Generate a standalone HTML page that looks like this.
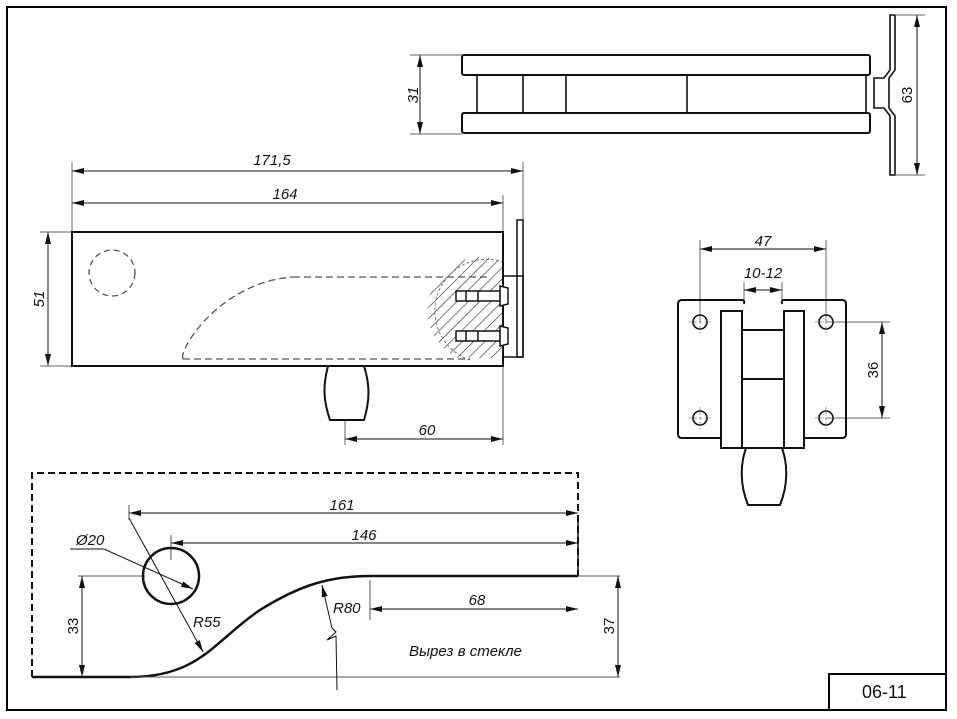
<!DOCTYPE html>
<html><head><meta charset="utf-8"><style>
html,body{margin:0;padding:0;background:#fff;}
svg{display:block;}
text{font-family:"Liberation Sans",sans-serif;font-style:italic;font-size:15px;fill:#111;}
</style></head><body>
<svg width="957" height="719" viewBox="0 0 957 719" xmlns="http://www.w3.org/2000/svg">
<defs>
<marker id="a" viewBox="0 0 12 6" refX="12" refY="3" markerWidth="12" markerHeight="6" orient="auto-start-reverse" markerUnits="userSpaceOnUse"><path d="M0,0 L12,3 L0,6 z" fill="#111"/></marker>
<pattern id="h" patternUnits="userSpaceOnUse" width="8" height="8" patternTransform="rotate(45)"><line x1="0" y1="0" x2="0" y2="8" stroke="#222" stroke-width="1.2"/></pattern>
</defs>
<!-- frame -->
<rect x="7" y="7" width="939" height="703" fill="none" stroke="#000" stroke-width="2"/>
<rect x="829" y="674" width="117" height="36" fill="none" stroke="#000" stroke-width="2"/>
<text x="862" y="698" style="font-style:normal;font-size:18px">06-11</text>

<!-- TOP VIEW -->
<g stroke="#111" fill="none">
<rect x="462" y="55" width="408" height="20" rx="2" stroke-width="2"/>
<rect x="462" y="113" width="408" height="20" rx="2" stroke-width="2"/>
<path d="M477 75V113M523 75V113M566 75V113M687 75V113M866 75V113" stroke-width="1.6"/>
<path d="M477 75H866M477 113H866" stroke-width="1.6"/>
<path d="M890 15V70L884 78H874V108H884L890 116V175H895V116L889 108V78L895 70V15Z" stroke-width="1.6"/>
<path d="M420 55V134" stroke-width="1" marker-start="url(#a)" marker-end="url(#a)"/>
<path d="M410 55H462M410 134H462" stroke="#666" stroke-width="1"/>
<path d="M917 15V175" stroke-width="1" marker-start="url(#a)" marker-end="url(#a)"/>
<path d="M895 15H925M895 175H925" stroke="#666" stroke-width="1"/>
</g>
<text transform="translate(418,95) rotate(-90)" text-anchor="middle">31</text>
<text transform="translate(912,95) rotate(-90)" text-anchor="middle" style="font-style:normal">63</text>

<!-- SIDE VIEW -->
<g stroke="#111" fill="none">
<path d="M72 162V232M523 162V220M503 195V232M503 366V445M345 420V445" stroke="#666" stroke-width="1"/>
<path d="M72 171H523" stroke-width="1" marker-start="url(#a)" marker-end="url(#a)"/>
<path d="M72 203H503" stroke-width="1" marker-start="url(#a)" marker-end="url(#a)"/>
<path d="M48 232V366" stroke-width="1" marker-start="url(#a)" marker-end="url(#a)"/>
<path d="M40 232H72M40 366H72" stroke="#666" stroke-width="1"/>
<path d="M345 439H503" stroke-width="1" marker-start="url(#a)" marker-end="url(#a)"/>
<path d="M458 358 A48 48 0 0 1 503 262 V358 Z" fill="url(#h)" stroke="none"/>
<path d="M470 360 A48 48 0 0 1 503 262" stroke="#777" stroke-dasharray="3,2" stroke-width="1"/>
<rect x="72" y="232" width="431" height="134" stroke-width="2"/>
<circle cx="112" cy="273" r="23" stroke="#555" stroke-dasharray="6,4" stroke-width="1.3"/>
<path d="M293 277H490M183 359H470M183 359 C178 350 220 282 293 277" stroke="#555" stroke-dasharray="7,4" stroke-width="1.3"/>
<rect x="503" y="276" width="20" height="81" stroke-width="1.5"/>
<rect x="517" y="220" width="6" height="137" stroke-width="1.5"/>
<g stroke-width="1.5" fill="#fff">
<rect x="456" y="291" width="44" height="10"/><path d="M466 291V301M478 291V301M500 286L508 288V304L500 306Z"/>
<rect x="456" y="331" width="44" height="10"/><path d="M466 331V341M478 331V341M500 326L508 328V344L500 346Z"/>
</g>
<path d="M328 366H364 C370 385 370 400 364 420 H330 C323 400 323 385 328 366Z" stroke-width="2"/>
</g>
<text x="272" y="165" text-anchor="middle">171,5</text>
<text x="285" y="199" text-anchor="middle">164</text>
<text transform="translate(44,299) rotate(-90)" text-anchor="middle">51</text>
<text x="427" y="435" text-anchor="middle">60</text>

<!-- FRONT VIEW -->
<g stroke="#111" fill="none">
<path d="M700 240V322M826 240V322M826 322H890M826 418H890" stroke="#666" stroke-width="1"/>
<path d="M744 282V300M782 282V300" stroke="#666" stroke-width="1"/>
<path d="M700 249H826" stroke-width="1" marker-start="url(#a)" marker-end="url(#a)"/>
<path d="M744 290H782" stroke-width="1" marker-start="url(#a)" marker-end="url(#a)"/>
<path d="M882 322V418" stroke-width="1" marker-start="url(#a)" marker-end="url(#a)"/>
<path d="M742 300H682Q678 300 678 304V434Q678 438 682 438H721" stroke-width="2"/>
<path d="M784 300H842Q846 300 846 304V434Q846 438 842 438H804" stroke-width="2"/>
<path d="M742 300Q745 300 744 304" stroke-width="2"/>
<path d="M784 300Q781 300 782 304" stroke-width="2"/>
<rect x="721" y="311" width="21" height="137" stroke-width="2"/>
<rect x="784" y="311" width="20" height="137" stroke-width="2"/>
<path d="M742 330H784M742 379H784M742 448H784" stroke-width="2"/>
<path d="M746 448H782 C788 465 788 485 780 505 H748 C740 485 740 465 746 448Z" stroke-width="2"/>
<g stroke-width="1.6"><circle cx="700" cy="322" r="7"/><circle cx="826" cy="322" r="7"/><circle cx="700" cy="418" r="7"/><circle cx="826" cy="418" r="7"/></g>
<path d="M689 322H711M700 311V333M815 322H837M826 311V333M689 418H711M700 407V429M815 418H837M826 407V429" stroke="#888" stroke-width="0.8" stroke-dasharray="3,2"/>
</g>
<text x="763" y="246" text-anchor="middle">47</text>
<text x="763" y="278" text-anchor="middle">10-12</text>
<text transform="translate(878,370) rotate(-90)" text-anchor="middle" style="font-style:normal">36</text>

<!-- CUTOUT -->
<g stroke="#111" fill="none">
<path d="M32 677V473H578V576" stroke-width="2" stroke-dasharray="7,4"/>
<path d="M578 515V576" stroke-width="1.5"/>
<path d="M32 677H130 C200 677 215 640 260 610 C300 585 330 576 370 576 H578" stroke-width="2.5"/>
<path d="M130 677H620M578 576H620M370 580V620M78 576H145M129 505V520M171 535V560" stroke="#555" stroke-width="1"/>
<circle cx="171" cy="576" r="28" stroke-width="2.5"/>
<path d="M129 513H578" stroke-width="1" marker-start="url(#a)" marker-end="url(#a)"/>
<path d="M171 543H578" stroke-width="1" marker-start="url(#a)" marker-end="url(#a)"/>
<path d="M370 609H578" stroke-width="1" marker-start="url(#a)" marker-end="url(#a)"/>
<path d="M82 576V677" stroke-width="1" marker-start="url(#a)" marker-end="url(#a)"/>
<path d="M618 576V677" stroke-width="1" marker-start="url(#a)" marker-end="url(#a)"/>
<path d="M70 549H104L193 589" stroke-width="1" marker-end="url(#a)"/>
<path d="M129 518L203 652" stroke-width="1" marker-end="url(#a)"/>
<path d="M337 690L336 636L327 640L336 632L332 628L322 585" stroke-width="1" marker-end="url(#a)"/>
</g>
<text x="76" y="545">Ø20</text>
<text x="364" y="540" text-anchor="middle">146</text>
<text x="342" y="510" text-anchor="middle">161</text>
<text x="193" y="627">R55</text>
<text x="333" y="613">R80</text>
<text x="477" y="605" text-anchor="middle">68</text>
<text transform="translate(78,626) rotate(-90)" text-anchor="middle" style="font-style:normal">33</text>
<text transform="translate(614,626) rotate(-90)" text-anchor="middle" style="font-style:normal">37</text>
<text x="409" y="656">Вырез в стекле</text>
</svg>
</body></html>
